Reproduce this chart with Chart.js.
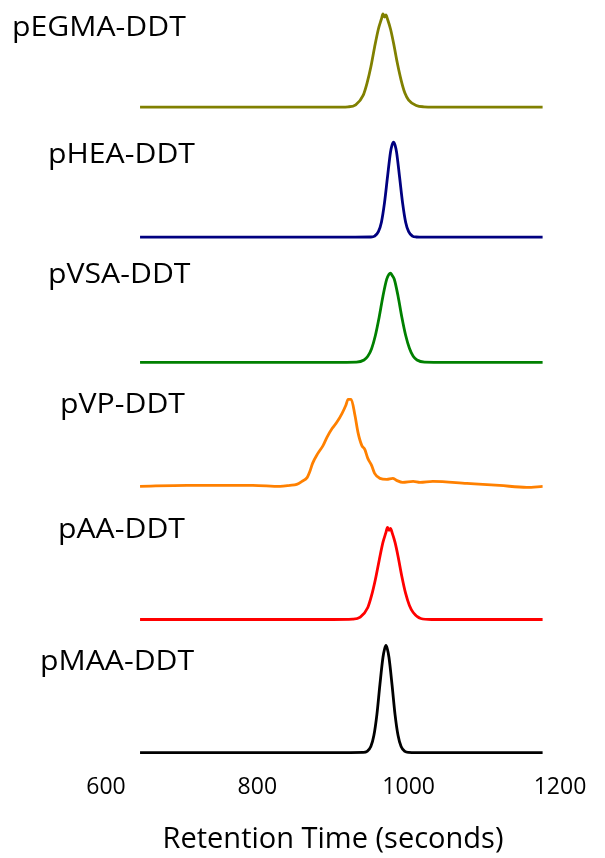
<!DOCTYPE html>
<html>
<head>
<meta charset="utf-8">
<script src="https://cdn.jsdelivr.net/npm/chart.js@4/dist/chart.umd.min.js"></script>
<style>
  html, body { margin: 0; padding: 0; background: #fff; }
  #wrap { width: 605px; height: 858px; position: relative; }
</style>
</head>
<body>
<div id="wrap"><canvas id="myChart"></canvas></div>
<script>
// series names, top to bottom
const names = ["pEGMA-DDT", "pHEA-DDT", "pVSA-DDT", "pVP-DDT", "pAA-DDT", "pMAA-DDT"];

// retention time (s) and detector signal (a.u.)
const egmaX = [645, 700, 800, 900, 920, 930, 940, 945, 950, 955, 960, 964, 966, 968, 970, 972, 976, 980, 985, 990, 995, 1000, 1010, 1020, 1050, 1100, 1177];
const egmaY = [0, 0, 0, 0, 0.3, 2.3, 12, 24, 40, 60, 78, 88, 93, 90, 92, 88, 78, 64, 44, 27, 14, 7, 1.5, 0.3, 0, 0, 0];

const heaX = [645, 700, 800, 900, 950, 955, 960, 964, 968, 972, 976, 978, 980, 982, 984, 988, 992, 996, 1000, 1005, 1010, 1020, 1100, 1177];
const heaY = [0, 0, 0, 0, 0.2, 1.1, 5.5, 15, 34, 60, 85, 92, 95, 92, 85, 60, 34, 15, 5.5, 1.1, 0.2, 0, 0, 0];

const vsaX = [645, 700, 800, 900, 931, 941, 946, 951, 956, 961, 966, 971, 974, 976, 978, 981, 986, 991, 996, 1001, 1006, 1011, 1021, 1050, 1100, 1177];
const vsaY = [0, 0, 0, 0, 0.2, 2.3, 6, 13.6, 26.8, 45, 66, 83, 88, 89, 87, 83, 66, 45, 27, 14, 6, 2.3, 0.2, 0, 0, 0];

const vpX = [645, 707, 794, 830, 843, 852, 859, 866, 869, 873, 880, 887, 892, 899, 905, 912, 917, 920, 924, 929, 933, 938, 942, 946, 951, 955, 962, 971, 979, 984, 992, 1006, 1015, 1032, 1077, 1120, 1156, 1177];
const vpY = [0, 1, 1, 0, 1, 2, 5, 9, 14, 23, 33, 41, 49, 58, 64, 73, 81, 87, 87, 71, 54, 41, 37, 28, 21, 13, 8, 7, 8, 6, 4, 5, 4, 5, 3, 1, -1, 0];

const aaX = [645, 700, 800, 900, 926, 936, 946, 951, 956, 961, 966, 970, 972, 974, 976, 978, 982, 986, 991, 996, 1001, 1006, 1016, 1030, 1100, 1177];
const aaY = [0, 0, 0, 0, 0.3, 2.3, 12, 24, 40, 59, 77, 87, 92, 89, 91, 87, 77, 63, 43, 26, 14, 7, 1, 0, 0, 0];

const maaX = [645, 700, 800, 900, 940, 945, 950, 954, 958, 962, 966, 968, 970, 972, 974, 978, 982, 986, 990, 995, 1000, 1010, 1100, 1177];
const maaY = [0, 0, 0, 0, 0.2, 1.2, 6, 17, 38, 68, 95, 103, 107, 103, 95, 68, 38, 17, 6, 1.2, 0.2, 0, 0, 0];

const xTicks = [600, 800, 1000, 1200];

// vertical stacking of the traces (baseline shift) and look
const offsets = [658, 528, 403, 279, 146, 13];
const colors = ["#808000", "#000080", "#008000", "#ff8000", "#ff0000", "#000000"];
const xs = [egmaX, heaX, vsaX, vpX, aaX, maaX];
const ys = [egmaY, heaY, vsaY, vpY, aaY, maaY];

const datasets = names.map((name, i) => ({
  label: name,
  data: xs[i].map((x, j) => ({ x: x, y: ys[i][j] + offsets[i] })),
  borderColor: colors[i],
  borderWidth: 2.8,
  pointRadius: 0,
  fill: false,
  cubicInterpolationMode: "monotone",
  clip: false,
}));

// series names drawn to the left of each trace (text a bit wide, like the original)
const labelPos = [[12, 36], [48, 163], [48, 283], [60, 413], [58, 538], [40, 670]];
const seriesLabels = {
  id: "seriesLabels",
  afterDraw(chart) {
    const ctx = chart.ctx;
    ctx.save();
    ctx.fillStyle = "#000";
    ctx.font = "27px 'Open Sans'";
    ctx.textAlign = "left";
    ctx.textBaseline = "alphabetic";
    names.forEach((n, i) => {
      ctx.save();
      ctx.translate(labelPos[i][0], labelPos[i][1]);
      ctx.scale(1.12, 1);
      ctx.fillText(n, 0, 0);
      ctx.restore();
    });
    ctx.restore();
  },
};

new Chart("myChart", {
  type: "line",
  data: { datasets: datasets },
  options: {
    responsive: true,
    maintainAspectRatio: false,
    animation: false,
    layout: { padding: { left: 106, right: 45, top: 0, bottom: 0 } },
    plugins: { legend: { display: false }, tooltip: { enabled: false } },
    scales: {
      x: {
        type: "linear",
        min: 600,
        max: 1200,
        afterBuildTicks: (axis) => { axis.ticks = xTicks.map((v) => ({ value: v })); },
        grid: { display: false, drawTicks: false },
        border: { display: false },
        ticks: {
          color: "#000",
          padding: 8,
          maxRotation: 0,
          font: { family: "'Open Sans'", size: 23 },
          callback: (v) => String(v),
        },
        title: {
          display: true,
          text: "Retention Time (seconds)",
          color: "#000",
          font: { family: "'Open Sans'", size: 29 },
          padding: { top: 13, bottom: 1 },
        },
      },
      y: { display: false, min: 0, max: 765 },
    },
  },
  plugins: [seriesLabels],
});
</script>
</body>
</html>
